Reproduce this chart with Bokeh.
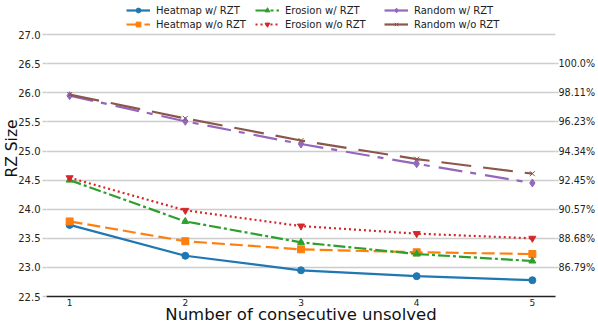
from bokeh.plotting import figure
from bokeh.models import (Range1d, LinearAxis, FixedTicker, Legend, LegendItem,
                          PrintfTickFormatter)
from bokeh.embed import file_html
from bokeh.resources import INLINE

# ---- data ----
x_vals = [1, 2, 3, 4, 5]
heatmap_w = [23.73, 23.20, 22.95, 22.85, 22.78]
heatmap_wo = [23.79, 23.45, 23.31, 23.26, 23.23]
erosion_w = [24.50, 23.79, 23.43, 23.23, 23.11]
erosion_wo = [24.54, 23.98, 23.71, 23.58, 23.50]
random_w = [25.95, 25.51, 25.12, 24.78, 24.45]
random_wo = [25.97, 25.56, 25.18, 24.86, 24.61]

series_names = ["Heatmap w/ RZT", "Heatmap w/o RZT", "Erosion w/ RZT",
                "Erosion w/o RZT", "Random w/ RZT", "Random w/o RZT"]
left_ticks = [22.5, 23.0, 23.5, 24.0, 24.5, 25.0, 25.5, 26.0, 26.5, 27.0]
right_ticks = [23.0, 23.5, 24.0, 24.5, 25.0, 25.5, 26.0, 26.5]
right_tick_labels = ["86.79%", "88.68%", "90.57%", "92.45%",
                     "94.34%", "96.23%", "98.11%", "100.0%"]
x_label = "Number of consecutive unsolved"
y_label = "RZ Size"

FONT = "DejaVu Sans"

# y range extends above 27.0 to leave room for the legend inside the frame
p = figure(width=598, height=326, x_range=Range1d(0.8, 5.2),
           y_range=Range1d(22.5, 27.586), output_backend="svg",
           toolbar_location=None, min_border=0,
           min_border_left=0, min_border_right=0, min_border_top=0,
           min_border_bottom=0)
p.outline_line_color = None
p.xgrid.visible = False

# left axis
ya = p.yaxis[0]
ya.ticker = FixedTicker(ticks=left_ticks)
ya.formatter = PrintfTickFormatter(format="%.1f")
ya.axis_line_color = None
ya.major_tick_line_color = "#cccccc"
ya.major_tick_line_width = 1.5
ya.major_tick_out = 4
ya.major_tick_in = 0
ya.minor_tick_line_color = None
ya.major_label_text_font = FONT
ya.major_label_text_font_size = "10px"
ya.major_label_text_color = "#222222"
ya.major_label_standoff = 2
ya.axis_label = y_label
ya.axis_label_text_font = FONT
ya.axis_label_text_font_size = "15.5px"
ya.axis_label_text_font_style = "normal"
ya.axis_label_text_color = "#111111"
ya.axis_label_standoff = -6

p.ygrid.ticker = FixedTicker(ticks=left_ticks)
p.ygrid.grid_line_color = "#cccccc"
p.ygrid.grid_line_width = 1.6

# bottom axis
xa = p.xaxis[0]
xa.ticker = FixedTicker(ticks=x_vals)
xa.axis_line_color = "#222222"
xa.axis_line_width = 1.6
xa.major_tick_line_color = None
xa.major_tick_out = 0
xa.major_tick_in = 0
xa.minor_tick_line_color = None
xa.major_label_text_font = FONT
xa.major_label_text_font_size = "9px"
xa.major_label_text_color = "#222222"
xa.major_label_standoff = 2
xa.axis_label = x_label
xa.axis_label_text_font = FONT
xa.axis_label_text_font_size = "16.5px"
xa.axis_label_text_font_style = "normal"
xa.axis_label_text_color = "#111111"
xa.axis_label_standoff = -4

# right axis
ra = LinearAxis(ticker=FixedTicker(ticks=right_ticks),
                major_label_overrides=dict(zip(right_ticks, right_tick_labels)))
ra.axis_line_color = None
ra.major_tick_line_color = "#cccccc"
ra.major_tick_line_width = 1.5
ra.major_tick_out = 3
ra.major_tick_in = 0
ra.minor_tick_line_color = None
ra.major_label_text_font = FONT
ra.major_label_text_font_size = "9.6px"
ra.major_label_text_color = "#222222"
ra.major_label_standoff = 0
ra.axis_label_standoff = 0
p.add_layout(ra, "right")

# series
colors = ["#1f77b4", "#ff7f0e", "#2ca02c", "#d62728", "#9467bd", "#8c564b"]
dashes = ["solid", "13 5", "12 3 3 3", "2 3", "24 8 6 9", "30 12"]
markers = ["circle", "square", "triangle", "inverted_triangle", "diamond", "x"]
msizes = [7, 7, 7, 7, 8, 7]
all_vals = [heatmap_w, heatmap_wo, erosion_w, erosion_wo, random_w, random_wo]

items = []
for name, vals, c, d, m, s in zip(series_names, all_vals, colors, dashes, markers, msizes):
    ln = p.line(x_vals, vals, line_color=c, line_width=2.2, line_dash=d)
    mk = p.scatter(x_vals, vals, marker=m, size=s, line_color=c, fill_color=c,
                   line_width=1)
    items.append(LegendItem(label=name, renderers=[ln, mk]))

# row-major order for a 3-column, 2-row legend (columns: Heatmap, Erosion, Random)
order = [0, 2, 4, 1, 3, 5]
legend = Legend(items=[items[i] for i in order], orientation="horizontal", ncols=3,
                location=(80, 266),
                label_text_font=FONT, label_text_font_size="10px",
                label_text_color="#222222",
                glyph_width=24, glyph_height=12, label_height=12, label_width=97,
                label_standoff=6, spacing=2, padding=0, margin=0,
                border_line_color=None, background_fill_alpha=0)
p.add_layout(legend, "center")

open("out.html", "w").write(file_html(p, INLINE))
